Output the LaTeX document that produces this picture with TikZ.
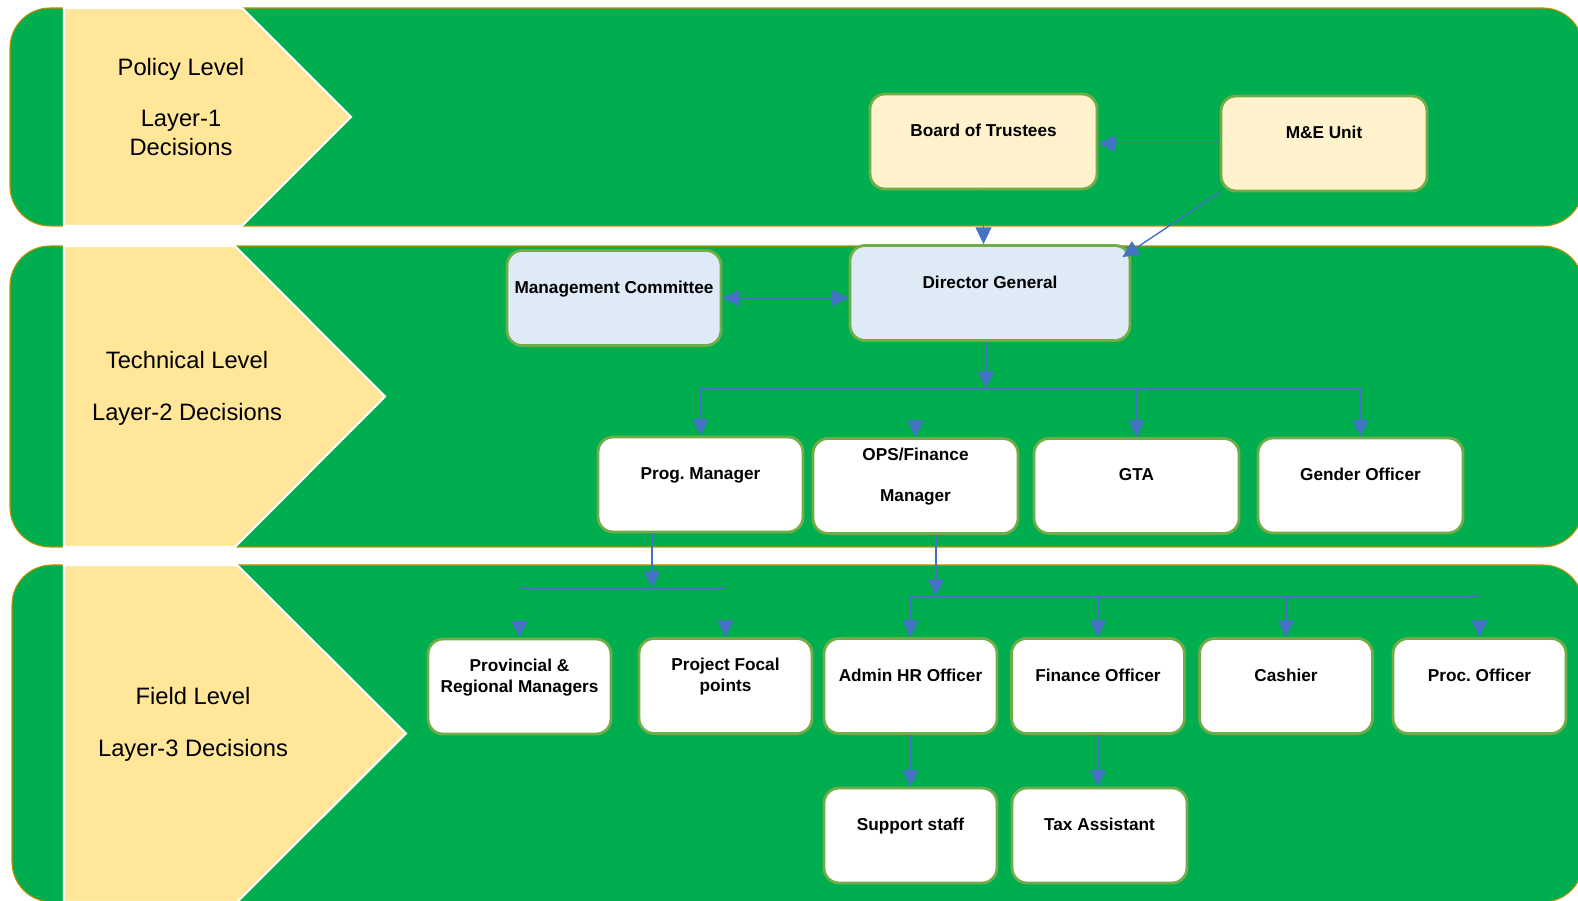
\documentclass[tikz,border=0pt]{standalone}
\usepackage{fontspec}
\setmainfont{Liberation Sans}
\usetikzlibrary{arrows.meta}
\frenchspacing
\definecolor{bandgreen}{HTML}{00AE4F}
\definecolor{bandedge}{HTML}{BF9000}
\definecolor{chevfill}{HTML}{FFE699}
\definecolor{boxedge}{HTML}{70AD47}
\definecolor{topfill}{HTML}{FFF2CC}
\definecolor{midfill}{HTML}{DEEBF7}
\definecolor{linkblue}{HTML}{4472C4}
\tikzset{
  band/.style={fill=bandgreen, draw=bandedge, line width=0.6pt, rounded corners=0.8cm},
  chev/.style={fill=chevfill, draw=white, line width=1.2pt},
  level/.style={align=center, font=\fontsize{13.5}{16.5}\selectfont},
  post/.style={draw=boxedge, line width=1.6pt, rounded corners=0.3cm, fill=white,
    minimum height=1.9cm, text depth=12.6pt, align=center,
    font=\bfseries\fontsize{9.8}{11.8}\selectfont},
  wire/.style={draw=linkblue, line width=0.8pt},
  link/.style={wire, -{Triangle[length=9.5pt,width=9pt]}},
  twoway/.style={wire, {Triangle[length=9.5pt,width=9pt]}-{Triangle[length=9.5pt,width=9pt]}},
}
\begin{document}
\begin{tikzpicture}[x=0.02cm, y=-0.02cm]
        \useasboundingbox (0,0) rectangle (1578,901);
        % Bands
        \draw[band] (10,8) rectangle (1583,226);
        \draw[band] (10,246) rectangle (1583,547);
        \draw[band] (12,565) rectangle (1583,902);
        % Chevrons
        \draw[chev] (64,8) -- (242,8) -- (351,117) -- (242,226) -- (64,226) -- cycle;
        \draw[chev] (64,246) -- (235,246) -- (385,396.5) -- (235,547) -- (64,547) -- cycle;
        \draw[chev] (64,565) -- (237,565) -- (406,733.5) -- (237,902) -- (64,902) -- cycle;
        \node[level] (pol) at (181,107) {Policy Level\\[12.5pt]Layer-1\\Decisions};
        \node[level] (tech) at (187,388) {Technical Level\\[13pt]Layer-2 Decisions};
        \node[level] (field) at (193,724) {Field Level\\[13pt]Layer-3 Decisions};
        % Layer 1
        \node[post, fill=topfill, minimum width=4.54cm] (bot) at (983.5,141.5) {Board of Trustees};
        \node[post, fill=topfill, minimum width=4.12cm] (mande) at (1324,143.5) {M\&E Unit};
        % Layer 2
        \node[post, fill=midfill, minimum width=4.28cm] (mc) at (614,298) {Management Committee};
        \node[post, fill=midfill, minimum width=5.6cm] (dg) at (990,293) {Director General};
        \node[post, minimum width=4.1cm] (prog) at (700.5,484.5) {Prog. Manager};
        \node[post, minimum width=4.1cm] (ops) at (915.5,486) {OPS/Finance\\[11.5pt]Manager};
        \node[post, minimum width=4.1cm] (gta) at (1136.5,486) {GTA};
        \node[post, minimum width=4.1cm] (gender) at (1360.5,485.5) {Gender Officer};
        % Layer 3
        \node[post, minimum width=3.66cm] (prov) at (519.5,686.5) {Provincial \&\\Regional Managers};
        \node[post, minimum width=3.46cm] (focal) at (725.5,686) {Project Focal\\points};
        \node[post, minimum width=3.46cm] (admin) at (910.5,686) {Admin HR Officer};
        \node[post, minimum width=3.46cm] (fin) at (1098,686) {Finance Officer};
        \node[post, minimum width=3.46cm] (cash) at (1286,686) {Cashier};
        \node[post, minimum width=3.46cm] (proc) at (1479.5,686) {Proc. Officer};
        \node[post, minimum width=3.46cm] (support) at (910.5,835.5) {Support staff};
        \node[post, minimum width=3.5cm] (tax) at (1099.5,835.5) {Tax Assistant};
        % Links, layer 1 to 2
        \draw[link] (mande.west) -- (mande.west -| bot.east);
        \draw[link] (bot.south) -- (bot.south |- dg.north);
        \draw[link] (mande.south west) -- ([xshift=-0.18cm,yshift=-0.26cm]dg.north east);
        \draw[twoway] (mc.east) -- (mc.east -| dg.west);
        % Links, layer 2
        \coordinate (fork) at (986,388);
        \draw[link] (dg.south -| fork) -- (fork);
        \draw[wire] (prog.north |- fork) -- (gender.north |- fork);
        \foreach \n in {prog,ops,gta,gender} {
          \draw[link] (\n.north |- fork) -- (\n.north);
        }
        % Links, layer 3
        \coordinate (forkl) at (652,588);
        \draw[link] (prog.south -| forkl) -- (forkl);
        \draw[wire] (prov.north |- forkl) -- (focal.north |- forkl);
        \foreach \n in {prov,focal} {
          \draw[link] (\n.north |- forkl) -- (\n.north);
        }
        \coordinate (forkr) at (936,596);
        \draw[link] (ops.south -| forkr) -- (forkr);
        \draw[wire] (admin.north |- forkr) -- (proc.north |- forkr);
        \foreach \n in {admin,fin,cash,proc} {
          \draw[link] (\n.north |- forkr) -- (\n.north);
        }
        \draw[link] (admin.south) -- (admin.south |- support.north);
        \draw[link] (fin.south) -- (fin.south |- tax.north);
      \end{tikzpicture}
\end{document}
